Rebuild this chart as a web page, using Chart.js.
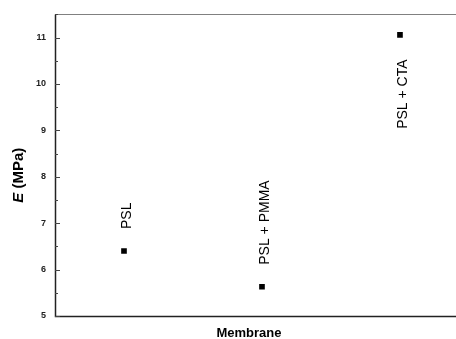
<!DOCTYPE html>
<html>
<head>
<meta charset="utf-8">
<script src="https://cdn.jsdelivr.net/npm/chart.js@4/dist/chart.umd.min.js"></script>
<style>
  html, body { margin: 0; padding: 0; background: #fff; }
  #wrap { width: 456px; height: 339px; }
</style>
</head>
<body>
<div id="wrap"><canvas id="c" width="456" height="339"></canvas></div>
<script>
// Young's modulus of each membrane
const membranes = ['PSL', 'PSL + PMMA', 'PSL + CTA'];
const modulus = [6.40, 5.63, 11.06];
// label sits above (+1) or below (-1) its marker
const labelSide = [1, 1, -1];
const yTicks = [5, 6, 7, 8, 9, 10, 11];

const FONT = 'Arial, "Liberation Sans", sans-serif';

const framePlugin = {
  id: 'frame',
  afterDatasetsDraw(chart) {
    const { ctx, chartArea: a, scales } = chart;
    const y = scales.y, x = scales.x;
    const right = chart.width;
    ctx.save();
    // frame: grey top edge, dark left and bottom edges (open on the right)
    ctx.lineWidth = 1;
    ctx.strokeStyle = '#808080';
    ctx.beginPath();
    ctx.moveTo(a.left, Math.round(a.top) + 0.5);
    ctx.lineTo(right, Math.round(a.top) + 0.5);
    ctx.stroke();
    ctx.strokeStyle = '#222';
    ctx.lineWidth = 1.5;
    ctx.beginPath();
    ctx.moveTo(a.left + 0.5, a.top);
    ctx.lineTo(a.left + 0.5, a.bottom + 0.5);
    ctx.lineTo(right, a.bottom + 0.5);
    ctx.stroke();

    // inward tick marks: major on integers, minor on halves
    ctx.lineWidth = 1;
    ctx.strokeStyle = '#444';
    y.ticks.forEach(t => {
      const py = Math.round(y.getPixelForValue(t.value)) + 0.5;
      const major = Number.isInteger(t.value);
      ctx.beginPath();
      ctx.moveTo(a.left, py);
      ctx.lineTo(a.left + (major ? 5 : 3), py);
      ctx.stroke();
    });

    // vertical labels naming each membrane
    ctx.fillStyle = '#000';
    ctx.font = '14px ' + FONT;
    membranes.forEach((name, i) => {
      const px = x.getPixelForValue(i + 1);
      const py = y.getPixelForValue(modulus[i]);
      ctx.save();
      ctx.translate(px + 3, labelSide[i] > 0 ? py - 22 : py + 94);
      ctx.rotate(-Math.PI / 2);
      ctx.textAlign = 'left';
      ctx.textBaseline = 'middle';
      ctx.fillText(name, 0, 0);
      ctx.restore();
    });

    // y-axis title: italic E followed by the unit
    ctx.save();
    ctx.translate(19, (a.top + a.bottom) / 2 + 10);
    ctx.rotate(-Math.PI / 2);
    ctx.textBaseline = 'middle';
    ctx.textAlign = 'left';
    const partE = 'E', partU = ' (MPa)';
    ctx.font = 'italic bold 15px ' + FONT;
    const wE = ctx.measureText(partE).width;
    ctx.font = 'bold 15px ' + FONT;
    const wU = ctx.measureText(partU).width;
    const start = -(wE + wU) / 2;
    ctx.font = 'italic bold 15px ' + FONT;
    ctx.fillText(partE, start, 0);
    ctx.font = 'bold 15px ' + FONT;
    ctx.fillText(partU, start + wE, 0);
    ctx.restore();

    // x-axis title
    ctx.font = 'bold 13px ' + FONT;
    ctx.textAlign = 'center';
    ctx.textBaseline = 'middle';
    ctx.fillText('Membrane', 249, 333);
    ctx.restore();
  }
};

new Chart(document.getElementById('c'), {
  type: 'scatter',
  data: {
    datasets: [{
      data: modulus.map((v, i) => ({ x: i + 1, y: v })),
      pointStyle: 'rect',
      pointRadius: 4,
      pointHoverRadius: 4,
      backgroundColor: '#000',
      borderColor: '#000',
      borderWidth: 0
    }]
  },
  options: {
    responsive: false,
    animation: false,
    events: [],
    layout: { padding: { top: 12, right: 0, bottom: 23, left: 0 } },
    plugins: { legend: { display: false }, tooltip: { enabled: false } },
    scales: {
      x: {
        type: 'linear',
        min: 0.5,
        max: 3.377,
        display: false
      },
      y: {
        min: 5,
        max: 11.5,
        afterFit(s) { s.width = 55; },
        afterBuildTicks(s) {
          const out = [];
          for (let v = 5; v <= 11.5 + 1e-9; v += 0.5) out.push({ value: v });
          s.ticks = out;
        },
        grid: { display: false, drawTicks: false },
        border: { display: false },
        ticks: {
          padding: 9,
          color: '#222',
          font: { family: FONT, size: 9, weight: 'bold' },
          callback: v => yTicks.includes(v) ? String(v) : ''
        }
      }
    }
  },
  plugins: [framePlugin]
});
</script>
</body>
</html>
